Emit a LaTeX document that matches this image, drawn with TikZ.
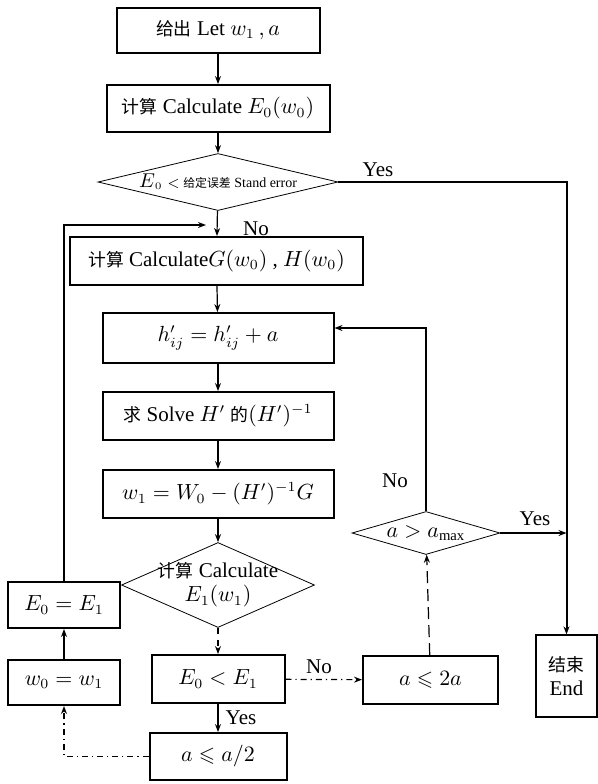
\documentclass[tikz,border=0pt]{standalone}
\usepackage{amsmath,amssymb}
\usepackage{fontspec}
\setmainfont{Liberation Serif}
\newfontfamily\cjk{Noto Sans CJK SC}[Scale=0.85]
\usetikzlibrary{shapes.geometric, arrows.meta, positioning}

\begin{document}
\begin{tikzpicture}[x=0.5pt, y=-0.5pt,
    block/.style={
        rectangle, draw=black, line width=1pt,
        minimum height=23.5pt, inner sep=1pt,
        text centered, align=center,
        font=\fontsize{10.5}{12}\selectfont
    },
    decision/.style={
        diamond, draw=black, thin, inner sep=0pt
    },
    dtext/.style={align=center, font=\fontsize{10.5}{12}\selectfont},
    arrow/.style={-{Stealth[length=4pt, width=3pt]}, semithick},
    main/.style={line width=1pt},
    note/.style={font=\fontsize{10.5}{12}\selectfont},
]
\useasboundingbox (0,0) rectangle (598,784);

% Colonna principale
\node[block, minimum width=101.5pt, minimum height=22.5pt] (start) at (218,30)
    {{\cjk 给出} Let $w_1\,,a$};
\node[block, minimum width=111.5pt] (calcE) at (218,108.5)
    {{\cjk 计算} Calculate $E_0(w_0)$};
\node[decision, minimum width=120pt, minimum height=28.5pt] (check) at (218,182) {};
\node[font=\scriptsize] (checktxt) at (check)
    {{\normalsize$E$}$_0<$ {\cjk 给定误差} Stand error};
\node[block, minimum width=146.5pt, minimum height=24pt] (calcGH) at (216.5,261)
    {{\cjk 计算} Calculate$G(w_0)$ , $H(w_0)$};
\node[block, minimum width=115.5pt, minimum height=25pt] (update) at (218,338)
    {$h'_{ij} = h'_{ij} + a$};
\node[block, minimum width=115.5pt, minimum height=24pt] (solve) at (218,416)
    {{\cjk 求} Solve $H'$ {\cjk 的}$(H')^{-1}$};
\node[block, minimum width=115.5pt, minimum height=24pt] (neww) at (218,494)
    {$w_1 = W_0 - (H')^{-1}G$};
\node[decision, minimum width=96.5pt, minimum height=42.5pt] (calcE1) at (218,585) {};
\node[dtext] (calcE1txt) at (calcE1)
    {{\cjk 计算} Calculate\\$E_1(w_1)$};
\node[block, minimum width=66.5pt, minimum height=24pt] (compare) at (218,679)
    {$E_0 < E_1$};
\node[block, minimum width=68.5pt] (halve) at (218,756.5)
    {$a \leqslant a/2$};

% Colonna sinistra
\node[block, minimum width=56pt, minimum height=23pt] (setE) at (64,605)
    {$E_0 = E_1$};
\node[block, minimum width=56pt, minimum height=22.5pt] (setw) at (64,682.5)
    {$w_0 = w_1$};

% Colonna destra
\node[block, minimum width=67.5pt, minimum height=24pt] (double) at (430.5,680)
    {$a \leqslant 2a$};
\node[decision, minimum width=74pt, minimum height=21.5pt] (amax) at (426,533) {};
\node[dtext] (amaxtxt) at (amax) {$a > a_{\max}$};
\node[block, semithick, minimum width=30.5pt, minimum height=41pt] (finish) at (566.5,676)
    {{\cjk 结束}\\End};

% Etichette
\node[note] (yes1) at (378,170) {Yes};
\node[note] (no1)  at (256,229) {No};
\node[note] (no2)  at (395,481) {No};
\node[note] (yes2) at (535,519) {Yes};
\node[note] (no3)  at (319,667) {No};
\node[note] (yes3) at (241,718) {Yes};

\coordinate (loopin) at (206,225);

% Frecce
\draw[arrow] (start) -- (calcE);
\draw[arrow] (calcE) -- (check);
\draw[arrow] (check) -- (calcGH);
\draw[arrow] (calcGH) -- (update);
\draw[arrow] (update) -- (solve);
\draw[arrow] (solve) -- (neww);
\draw[arrow] (neww) -- (calcE1);
\draw[arrow, dashed] (calcE1) -- (compare);
\draw[arrow] (compare) -- (halve);

\draw[arrow, main] (check.east) -| (finish.north);
\draw[arrow] (amax.east) -- (amax.east -| finish.north);
\draw[arrow] (amax.north) |- ([yshift=5pt]update.east);
\draw[arrow, dashed, dash pattern=on 6pt off 3pt] (double) -- (amax);
\draw[arrow, dash dot] (compare) -- (double);

\draw[arrow, dash dot] (halve.west) -| (setw.south);
\draw[arrow] (setw) -- (setE);
\draw[arrow, main] (setE.north) |- (loopin);

\end{tikzpicture}
\end{document}
